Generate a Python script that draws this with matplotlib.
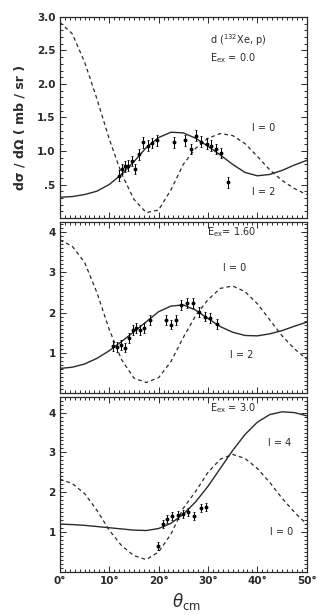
import matplotlib
matplotlib.use('Agg')
import matplotlib.pyplot as plt
from matplotlib.ticker import MultipleLocator, FixedLocator, FixedFormatter

theta = [0, 2.5, 5, 7.5, 10, 12.5, 15, 17.5, 20, 22.5, 25,
         27.5, 30, 32.5, 35, 37.5, 40, 42.5, 45, 47.5, 50]

# Ex = 0.0
p1_l2 = [0.31, 0.32, 0.35, 0.40, 0.50, 0.65, 0.84, 1.05, 1.20, 1.28, 1.27,
         1.19, 1.07, 0.94, 0.80, 0.68, 0.63, 0.65, 0.71, 0.79, 0.86]
p1_l0 = [2.92, 2.75, 2.33, 1.78, 1.18, 0.66, 0.28, 0.08, 0.12, 0.42, 0.80,
         1.04, 1.19, 1.26, 1.23, 1.11, 0.92, 0.72, 0.56, 0.44, 0.35]
p1_x = [11.9, 12.6, 13.2, 13.9, 14.6, 15.3, 16.1, 16.9, 17.9, 18.7, 19.6,
        23.1, 25.3, 26.5, 27.6, 28.6, 29.8, 30.7, 31.6, 32.6, 34.0]
p1_y = [0.63, 0.73, 0.77, 0.78, 0.85, 0.73, 0.95, 1.13, 1.08, 1.12, 1.16,
        1.13, 1.16, 1.03, 1.23, 1.14, 1.11, 1.08, 1.03, 0.97, 0.53]

# Ex = 1.60
p2_l2 = [0.61, 0.64, 0.72, 0.86, 1.05, 1.28, 1.52, 1.77, 2.02, 2.16, 2.19,
         2.06, 1.85, 1.65, 1.51, 1.43, 1.42, 1.47, 1.55, 1.66, 1.76]
p2_l0 = [3.80, 3.65, 3.25, 2.50, 1.58, 0.83, 0.37, 0.26, 0.38, 0.78, 1.38,
         1.92, 2.32, 2.60, 2.66, 2.52, 2.22, 1.82, 1.42, 1.10, 0.84]
p2_x = [10.8, 11.6, 12.3, 13.2, 14.0, 14.8, 15.5, 16.3, 17.1, 18.2,
        21.5, 22.5, 23.6, 24.6, 25.8, 26.9, 28.2, 29.4, 30.5, 31.8]
p2_y = [1.16, 1.15, 1.20, 1.13, 1.37, 1.57, 1.61, 1.57, 1.61, 1.82,
        1.82, 1.70, 1.82, 2.19, 2.23, 2.23, 2.02, 1.90, 1.87, 1.71]

# Ex = 3.0
p3_l4 = [1.20, 1.19, 1.17, 1.14, 1.11, 1.08, 1.05, 1.04, 1.09, 1.22, 1.45,
         1.76, 2.15, 2.60, 3.05, 3.45, 3.76, 3.95, 4.02, 4.00, 3.92]
p3_l0 = [2.33, 2.22, 1.97, 1.55, 1.05, 0.66, 0.41, 0.31, 0.50, 0.95, 1.60,
         2.02, 2.50, 2.83, 2.95, 2.85, 2.60, 2.25, 1.85, 1.50, 1.20]
p3_x = [19.9, 20.9, 21.8, 22.8, 23.9, 24.9, 25.9, 27.2, 28.5, 29.7]
p3_y = [0.66, 1.20, 1.33, 1.40, 1.44, 1.45, 1.50, 1.40, 1.60, 1.62]

xticks = [0, 10, 20, 30, 40, 50]
xtick_labels = ['0°', '10°', '20°', '30°', '40°', '50°']

ink = '#2a2a2a'
plt.rcParams['font.family'] = ['DejaVu Sans']

fig = plt.figure(figsize=(3.27, 6.15), dpi=100)
ax1 = fig.add_axes([0.183, 0.6455, 0.755, 0.327])
ax2 = fig.add_axes([0.183, 0.361, 0.755, 0.278])
ax3 = fig.add_axes([0.183, 0.070, 0.755, 0.285])


def style(ax, ylim, yticks, ylabels, yminor, err, xlabels=False):
    ax.set_xlim(0, 50)
    ax.set_ylim(*ylim)
    ax.xaxis.set_major_locator(FixedLocator(xticks))
    ax.xaxis.set_minor_locator(MultipleLocator(1))
    ax.yaxis.set_major_locator(FixedLocator(yticks))
    ax.yaxis.set_major_formatter(FixedFormatter(ylabels))
    ax.yaxis.set_minor_locator(MultipleLocator(yminor))
    ax.tick_params(which='both', direction='in', top=True, right=True,
                   color=ink, width=0.7)
    ax.tick_params(which='major', length=4, labelsize=7.5, pad=3)
    ax.tick_params(which='minor', length=2)
    for s in ax.spines.values():
        s.set_color(ink)
        s.set_linewidth(0.9)
    if xlabels:
        ax.set_xticklabels(xtick_labels, fontsize=7.5)
    else:
        ax.set_xticklabels([])
    for lab in ax.get_yticklabels() + ax.get_xticklabels():
        lab.set_fontweight('bold')
        lab.set_color(ink)


def curves(ax, solid, dashed, xs, ys, err):
    ax.plot(theta, solid, color=ink, lw=1.0)
    ax.plot(theta, dashed, color=ink, lw=0.9, dashes=(3, 2.5))
    ax.errorbar(xs, ys, yerr=err, fmt='o', ms=1.8, color='black',
                elinewidth=0.7, capsize=1.0, capthick=0.6)


curves(ax1, p1_l2, p1_l0, p1_x, p1_y, 0.08)
style(ax1, (0, 3.0), [0.5, 1.0, 1.5, 2.0, 2.5, 3.0],
      ['.5', '1.0', '1.5', '2.0', '2.5', '3.0'], 0.1, 0.08)
curves(ax2, p2_l2, p2_l0, p2_x, p2_y, 0.12)
style(ax2, (0, 4.25), [1, 2, 3, 4], ['1', '2', '3', '4'], 0.1, 0.12)
curves(ax3, p3_l4, p3_l0, p3_x, p3_y, 0.1)
style(ax3, (0, 4.4), [1, 2, 3, 4], ['1', '2', '3', '4'], 0.1, 0.1,
      xlabels=True)

fs = 7
ax1.text(0.607, 0.886, r'd ($^{132}$Xe, p)', transform=ax1.transAxes,
         fontsize=fs, va='center', color=ink)
ax1.text(0.607, 0.796, r'E$_{\rm ex}$ = 0.0', transform=ax1.transAxes,
         fontsize=fs, va='center', color=ink)
ax1.text(0.777, 0.448, 'l = 0', transform=ax1.transAxes, fontsize=fs,
         va='center', color=ink)
ax1.text(0.777, 0.129, 'l = 2', transform=ax1.transAxes, fontsize=fs,
         va='center', color=ink)

ax2.text(0.595, 0.94, r'E$_{\rm ex}$= 1.60', transform=ax2.transAxes,
         fontsize=fs, va='center', color=ink)
ax2.text(0.66, 0.73, 'l = 0', transform=ax2.transAxes, fontsize=fs,
         va='center', color=ink)
ax2.text(0.688, 0.222, 'l = 2', transform=ax2.transAxes, fontsize=fs,
         va='center', color=ink)

ax3.text(0.607, 0.937, r'E$_{\rm ex}$ = 3.0', transform=ax3.transAxes,
         fontsize=fs, va='center', color=ink)
ax3.text(0.842, 0.737, 'l = 4', transform=ax3.transAxes, fontsize=fs,
         va='center', color=ink)
ax3.text(0.85, 0.229, 'l = 0', transform=ax3.transAxes, fontsize=fs,
         va='center', color=ink)

fig.text(20 / 327, 1 - 127 / 615, 'dσ / dΩ ( mb / sr )', rotation=90,
         ha='center', va='center', fontsize=9, fontweight='bold', color=ink)
fig.text(0.5 * (60 + 307) / 327 + 0.01, 1 - 602 / 615, r'$\theta_{\rm cm}$',
         ha='center', va='center', fontsize=12, color=ink)

fig.savefig('out.png', dpi=100)
